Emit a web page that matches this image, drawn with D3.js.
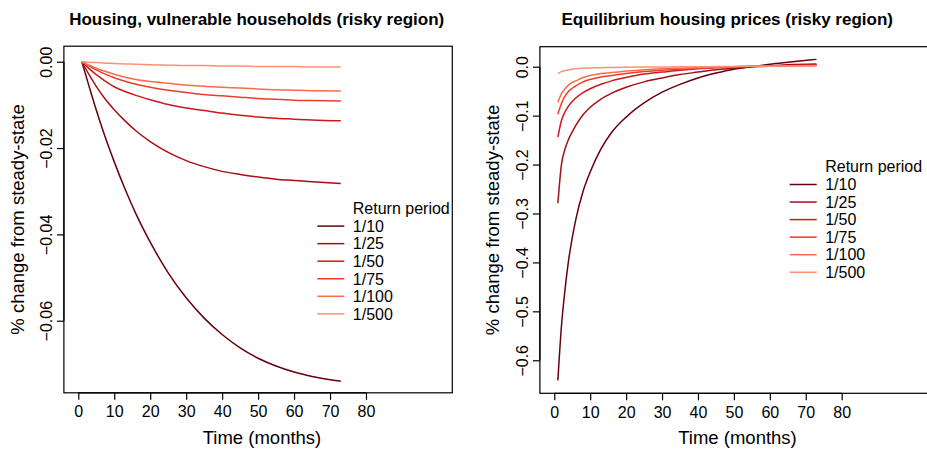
<!DOCTYPE html>
<html>
<head>
<meta charset="utf-8">
<script src="https://cdn.jsdelivr.net/npm/d3@7"></script>
<style>
  html, body { margin: 0; padding: 0; background: #fff; }
  svg { display: block; font-family: "Liberation Sans", Arial, Helvetica, sans-serif; }
</style>
</head>
<body>
<svg id="chart" width="927" height="449"></svg>
<script>
// ---------------- DATA ----------------
const seriesNames = ["1/10", "1/25", "1/50", "1/75", "1/100", "1/500"];
const seriesColors = ["#67000d", "#a50f15", "#cb181d", "#ef3b2c", "#fb6a4a", "#fc9272"];

// Left panel: Housing, vulnerable households (risky region)
const monthsLeft = [1, 3, 5, 7, 10, 13, 16, 20, 25, 30, 35, 40, 45, 50, 55, 60, 65, 73];
const housingRP10  = [0, -0.0057, -0.0112, -0.0163, -0.0232, -0.0295, -0.0352, -0.0418, -0.0489, -0.0547, -0.0594, -0.0632, -0.0663, -0.0687, -0.0705, -0.0719, -0.0729, -0.0740];
const housingRP25  = [0, -0.0030, -0.0057, -0.0081, -0.0111, -0.0137, -0.0160, -0.0185, -0.0210, -0.0229, -0.0243, -0.0254, -0.0261, -0.0267, -0.0272, -0.0275, -0.0278, -0.0282];
const housingRP50  = [0, -0.0016, -0.0030, -0.0042, -0.0058, -0.0069, -0.0078, -0.0088, -0.0099, -0.0107, -0.0113, -0.0119, -0.0124, -0.0128, -0.0131, -0.0133, -0.0135, -0.0137];
const housingRP75  = [0, -0.0010, -0.0019, -0.0027, -0.0037, -0.0045, -0.0052, -0.0059, -0.0066, -0.0071, -0.0076, -0.0079, -0.0082, -0.0085, -0.0087, -0.0089, -0.0090, -0.0091];
const housingRP100 = [0, -0.0008, -0.0015, -0.0021, -0.0029, -0.0036, -0.0041, -0.0046, -0.0050, -0.0054, -0.0057, -0.0059, -0.0061, -0.0063, -0.0065, -0.0066, -0.0067, -0.0068];
const housingRP500 = [0, -0.0001, -0.0002, -0.0003, -0.0004, -0.0005, -0.0006, -0.0007, -0.0008, -0.0009, -0.0009, -0.0010, -0.0010, -0.0011, -0.0011, -0.0011, -0.0012, -0.0012];

// Right panel: Equilibrium housing prices (risky region)
const monthsRight = [1, 2, 3, 4, 5, 6, 8, 10, 13, 16, 20, 25, 30, 35, 40, 45, 50, 55, 60, 65, 73];
const priceRP10  = [-0.641, -0.530, -0.455, -0.395, -0.350, -0.312, -0.255, -0.215, -0.168, -0.134, -0.103, -0.074, -0.052, -0.036, -0.023, -0.013, -0.005, 0.000, 0.005, 0.009, 0.015];
const priceRP25  = [-0.279, -0.200, -0.168, -0.148, -0.133, -0.120, -0.098, -0.083, -0.066, -0.054, -0.042, -0.031, -0.023, -0.016, -0.011, -0.006, -0.003, 0.000, 0.002, 0.004, 0.0055];
const priceRP50  = [-0.144, -0.110, -0.092, -0.080, -0.071, -0.064, -0.053, -0.045, -0.036, -0.029, -0.022, -0.015, -0.011, -0.007, -0.004, -0.002, -0.001, 0.000, 0.001, 0.002, 0.004];
const priceRP75  = [-0.097, -0.075, -0.060, -0.050, -0.044, -0.039, -0.031, -0.026, -0.021, -0.018, -0.014, -0.010, -0.007, -0.005, -0.003, -0.001, 0.000, 0.001, 0.002, 0.002, 0.003];
const priceRP100 = [-0.073, -0.055, -0.045, -0.037, -0.032, -0.029, -0.022, -0.018, -0.014, -0.012, -0.009, -0.006, -0.004, -0.003, -0.002, -0.001, 0.000, 0.001, 0.001, 0.002, 0.002];
const priceRP500 = [-0.014, -0.010, -0.008, -0.006, -0.005, -0.004, -0.003, -0.0025, -0.002, -0.0015, -0.001, -0.0007, -0.0005, -0.0003, 0.000, 0.0003, 0.0005, 0.001, 0.001, 0.0015, 0.002];

const xTicks = [0, 10, 20, 30, 40, 50, 60, 70, 80];
const yTicksLeft = [0, -0.02, -0.04, -0.06];
const yTicksRight = [0, -0.1, -0.2, -0.3, -0.4, -0.5, -0.6];
const xDomain = [-4, 104];
const yDomainLeft = [-0.0767, 0.0036];
const yDomainRight = [-0.6675, 0.0409];

// ---------------- DRAW ----------------
const svg = d3.select("#chart");
const fmtMinus = s => s.replace("-", "\u2212");

function panel(cfg) {
  const x = d3.scaleLinear().domain(xDomain).range([cfg.left, cfg.right]);
  const y = d3.scaleLinear().domain(cfg.yDomain).range([cfg.bottom, cfg.top]);
  const g = svg.append("g");

  // data lines
  const line = d3.line().x(d => x(d[0])).y(d => y(d[1])).curve(d3.curveMonotoneX);
  cfg.series.forEach((vals, i) => {
    const pts = cfg.months.map((m, j) => [m, vals[j]]);
    g.append("path").attr("d", line(pts)).attr("fill", "none")
      .attr("stroke", seriesColors[i]).attr("stroke-width", 1.5);
  });

  // box
  g.append("rect").attr("x", cfg.left).attr("y", cfg.top)
    .attr("width", cfg.right - cfg.left).attr("height", cfg.bottom - cfg.top)
    .attr("fill", "none").attr("stroke", "#000").attr("stroke-width", 1.2);

  // x axis
  const xa = d3.axisBottom(x).tickValues(xTicks).tickSize(7).tickPadding(3).tickSizeOuter(0);
  const gx = g.append("g").attr("transform", `translate(0,${cfg.bottom})`).call(xa);
  gx.select(".domain").attr("d", `M${x(0)},0H${x(80)}`).attr("stroke", "#000").attr("stroke-width", 1.2);
  gx.selectAll(".tick line").attr("stroke", "#000").attr("stroke-width", 1.2);
  gx.selectAll(".tick text").attr("font-size", 16).attr("fill", "#000")
    .attr("font-family", "Liberation Sans, Arial, sans-serif").attr("dy", null).attr("y", 24.5);

  // y axis
  const ya = d3.axisLeft(y).tickValues(cfg.yTicks).tickSize(7).tickSizeOuter(0)
    .tickFormat(d => fmtMinus(d3.format(cfg.yFmt)(d)));
  const gy = g.append("g").attr("transform", `translate(${cfg.left},0)`).call(ya);
  gy.select(".domain").attr("d", `M0,${y(cfg.yTicks[cfg.yTicks.length - 1])}V${y(cfg.yTicks[0])}`)
    .attr("stroke", "#000").attr("stroke-width", 1.2);
  gy.selectAll(".tick line").attr("stroke", "#000").attr("stroke-width", 1.2);
  gy.selectAll(".tick text").attr("font-size", 16).attr("fill", "#000")
    .attr("font-family", "Liberation Sans, Arial, sans-serif")
    .attr("x", null).attr("dy", null)
    .attr("text-anchor", "middle")
    .attr("transform", "translate(-11.5,0) rotate(-90)");

  // title
  svg.append("text").attr("x", cfg.titleX).attr("y", 25).attr("text-anchor", "middle")
    .attr("font-size", 17).attr("font-weight", "bold").text(cfg.title);
  // x axis title
  svg.append("text").attr("x", cfg.xTitleX).attr("y", 443.5).attr("text-anchor", "middle")
    .attr("font-size", 18.5).text("Time (months)");
  // y axis title
  svg.append("text").attr("transform", `translate(${cfg.yTitleX},${(cfg.top + cfg.bottom) / 2}) rotate(-90)`)
    .attr("text-anchor", "middle").attr("font-size", 18.5).text("% change from steady-state");

  // legend
  const lg = svg.append("g");
  lg.append("text").attr("x", cfg.legX + 35.5).attr("y", cfg.legY).attr("dy", "0.36em")
    .attr("font-size", 16).text("Return period");
  seriesNames.forEach((nm, i) => {
    const yy = cfg.legY + 17.8 + i * 17.55;
    lg.append("line").attr("x1", cfg.legX).attr("x2", cfg.legX + 27)
      .attr("y1", yy).attr("y2", yy).attr("stroke", seriesColors[i]).attr("stroke-width", 1.5);
    lg.append("text").attr("x", cfg.legX + 35.5).attr("y", yy).attr("dy", "0.36em")
      .attr("font-size", 16).text(nm);
  });
}

panel({
  left: 63.9, right: 452.3, top: 46.2, bottom: 392.8,
  yDomain: yDomainLeft, yTicks: yTicksLeft, yFmt: ".2f",
  months: monthsLeft,
  series: [housingRP10, housingRP25, housingRP50, housingRP75, housingRP100, housingRP500],
  title: "Housing, vulnerable households (risky region)", titleX: 256.7,
  xTitleX: 262, yTitleX: 23.5,
  legX: 317.3, legY: 208.3
});

panel({
  left: 539.9, right: 927.9, top: 46.7, bottom: 393.3,
  yDomain: yDomainRight, yTicks: yTicksRight, yFmt: ".1f",
  months: monthsRight,
  series: [priceRP10, priceRP25, priceRP50, priceRP75, priceRP100, priceRP500],
  title: "Equilibrium housing prices (risky region)", titleX: 727.2,
  xTitleX: 737.5, yTitleX: 498.5,
  legX: 789.7, legY: 166.7
});
</script>
</body>
</html>
